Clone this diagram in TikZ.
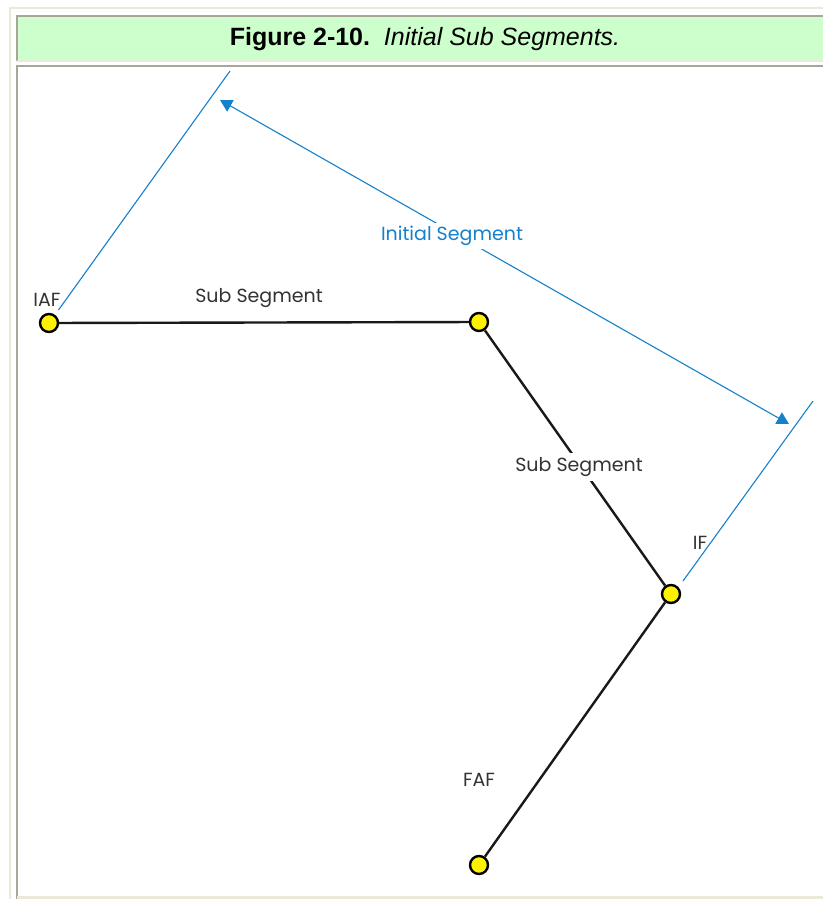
\documentclass[tikz,border=0pt]{standalone}
\usepackage{fontspec}
\setmainfont{Poppins}
\newfontfamily\headfont{Liberation Sans}
\usetikzlibrary{arrows.meta}
\definecolor{hdrgreen}{HTML}{CCFFCC}
\definecolor{frgray}{HTML}{A8A698}
\definecolor{beigeln}{HTML}{ECE9D8}
\definecolor{segblue}{HTML}{1580CC}
\definecolor{txt}{HTML}{333333}
\begin{document}
\begin{tikzpicture}[x=1pt,y=-1pt,
  fix/.style={circle,draw=black,fill=yellow,line width=2.4pt,minimum size=18pt,inner sep=0pt},
  seg/.style={black!90,line width=2.4pt},
  blueln/.style={segblue,line width=1.1pt},
  lbl/.style={text=txt,font=\fontsize{19}{22}\selectfont,inner sep=1pt},
  bluelbl/.style={text=segblue,font=\fontsize{19}{22}\selectfont,fill=white,inner sep=3pt}]
\useasboundingbox (0,0) rectangle (823,899);
\fill[white] (0,0) rectangle (823,899);
% frame
\draw[beigeln,line width=2.5pt] (10,899) -- (10,8) -- (823,8);
\fill[hdrgreen] (17,17) rectangle (823,60);
\draw[frgray,line width=2pt] (16.5,61) -- (16.5,16) -- (823,16);
\draw[beigeln,line width=1.5pt] (17,61) -- (823,61);
\draw[frgray,line width=2pt] (16.5,899) -- (16.5,66.5) -- (823,66.5);
\draw[beigeln,line width=2.5pt] (17,897.5) -- (823,897.5);
\node[font=\headfont\fontsize{25}{28}\selectfont,text=black] (title) at (425,39)
  {\textbf{Figure 2-10.}\ \ \textit{Initial Sub Segments.}};
% fixes
\node[fix] (iaf) at (49,323) {};
\node[fix] (mid) at (479,322) {};
\node[fix] (ifx) at (671,594) {};
\node[fix] (faf) at (479,865) {};
\draw[seg] (iaf) -- (mid);
\draw[seg] (mid) -- (ifx);
\draw[seg] (ifx) -- (faf);
% blue reference lines
\coordinate (a1) at (58.5,310);
\coordinate (a2) at (230,71);
\coordinate (b1) at (683,581);
\coordinate (b2) at (813,401);
\draw[blueln] (a1) -- (a2);
\draw[blueln] (b1) -- (b2);
\coordinate (arrL) at (220,100);
\coordinate (arrR) at (789,424);
\draw[blueln,{Triangle[length=12pt,width=13pt]}-{Triangle[length=12pt,width=13pt]}] (arrL) -- (arrR);
\node[bluelbl] (initseg) at (452,236) {Initial Segment};
% labels
\node[lbl] (liaf) at (47,300) {IAF};
\node[lbl] (lsub1) at (259,298) {Sub Segment};
\node[lbl,fill=white,inner sep=4pt] (lsub2) at (579,467) {Sub Segment};
\node[lbl] (lif) at (700,543) {IF};
\node[lbl] (lfaf) at (479,780) {FAF};
\end{tikzpicture}
\end{document}
